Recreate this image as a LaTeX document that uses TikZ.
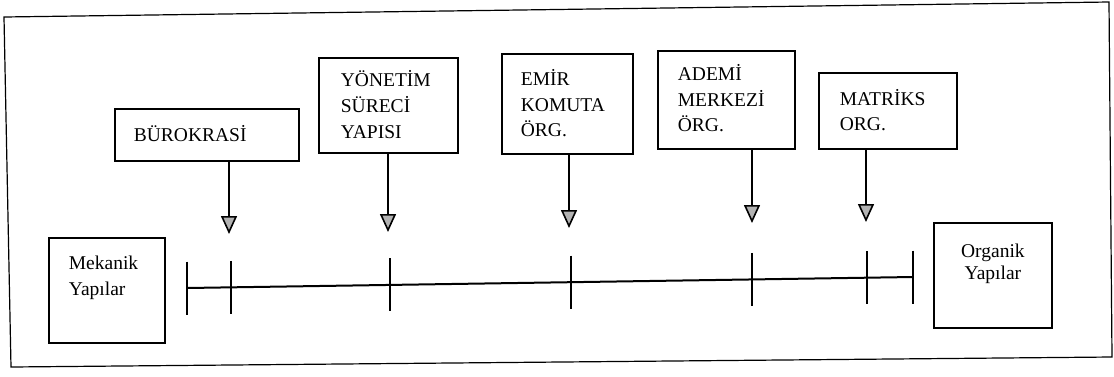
\documentclass[tikz,border=0pt]{standalone}
\usepackage{fontspec}
\setmainfont{Liberation Serif}
\usetikzlibrary{arrows.meta,calc}

% width, height, left padding, first baseline from top, lines
\newcommand\boxlines[5]{\parbox[c][#2pt][t]{#1pt}{\fontsize{19.5}{25.5}\selectfont
  \raggedright\leftskip=#3pt\relax
  \vspace*{\dimexpr#4pt-18pt\relax}\rule{0pt}{18pt}#5}}

\begin{document}
\begin{tikzpicture}[x=1pt,y=-1pt,
  frame/.style={line width=1.2pt},
  stagebox/.style={draw,line width=1.8pt,inner sep=0pt,anchor=north west},
  pointer/.style={line width=1.6pt,
    -{Triangle[length=18pt,width=16pt,fill=gray!60,line width=1.6pt]}},
  scale line/.style={line width=2pt},
  tick/.style={line width=1.8pt}]
\useasboundingbox (0,0) rectangle (1114,376);

% outer frame
\draw[frame] (4,17) -- (1109,2) -- (1112,357) -- (11,367) -- cycle;

% end points of the scale
\node[stagebox] (mek) at (48,237)
  {\boxlines{116}{105}{20}{32}{Mekanik\\[0.5pt]Yapılar}};
\node[stagebox] (org) at (933,222)
  {\boxlines{118}{105}{0}{35}{\centering Organik\\[-3.5pt]Yapılar}};

% structure types
\node[stagebox] (bur) at (114,108) {\boxlines{184}{52}{19}{33}{BÜROKRASİ}};
\node[stagebox] (yon) at (318,57)
  {\boxlines{139}{95}{22}{29}{YÖNETİM\\[0.5pt]SÜRECİ\\[0.5pt]YAPISI}};
\node[stagebox] (emi) at (501,53)
  {\boxlines{131}{100}{19}{32}{EMİR\\KOMUTA\\ÖRG.}};
\node[stagebox] (ade) at (657,50)
  {\boxlines{137}{98}{20}{30}{ADEMİ\\MERKEZİ\\ÖRG.}};
\node[stagebox] (mat) at (818,72)
  {\boxlines{138}{76}{21}{33}{MATRİKS\\[-0.5pt]ORG.}};

% the scale
\coordinate (L) at (187,288);
\coordinate (R) at (913,277);
\draw[scale line] (L) -- (R);
\foreach \t/\n in {0/t0,0.0606/t1,0.2796/t2,0.5289/t3,0.7782/t4,0.9366/t5,1/t6}{
  \coordinate (\n) at ($(L)!\t!(R)$);
  \draw[tick] ($(\n)+(0,-26.5)$) -- ($(\n)+(0,26.5)$);
}

% arrow tips above the scale
\coordinate (a1) at (229,234);
\coordinate (a2) at (388,232);
\coordinate (a3) at (569,228);
\coordinate (a4) at (752,223);
\coordinate (a5) at (866,222);
\draw[pointer] (bur.south -| a1) -- (a1);
\draw[pointer] (yon.south -| a2) -- (a2);
\draw[pointer] (emi.south -| a3) -- (a3);
\draw[pointer] (ade.south -| a4) -- (a4);
\draw[pointer] (mat.south -| a5) -- (a5);
\end{tikzpicture}
\end{document}
